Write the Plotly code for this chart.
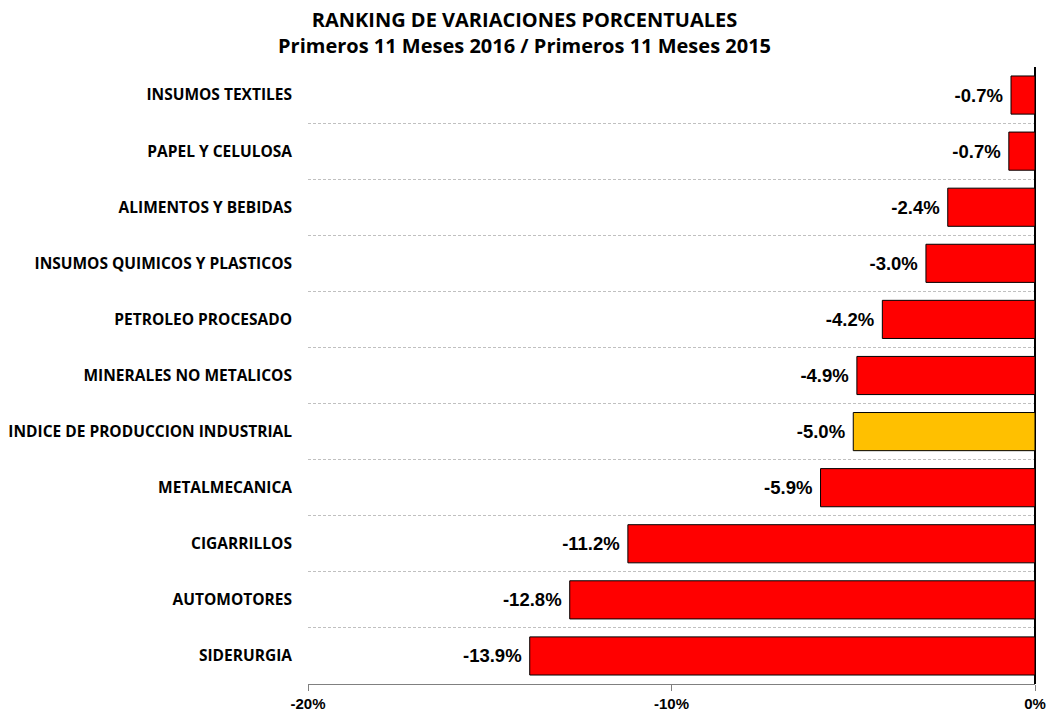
import plotly.graph_objects as go

categories = ["SIDERURGIA", "AUTOMOTORES", "CIGARRILLOS", "METALMECANICA",
              "INDICE DE PRODUCCION INDUSTRIAL", "MINERALES NO METALICOS",
              "PETROLEO PROCESADO", "INSUMOS QUIMICOS Y PLASTICOS",
              "ALIMENTOS Y BEBIDAS", "PAPEL Y CELULOSA", "INSUMOS TEXTILES"]
values = [-13.9, -12.8, -11.2, -5.9, -5.0, -4.9, -4.2, -3.0, -2.4, -0.72, -0.66]
highlight = "INDICE DE PRODUCCION INDUSTRIAL"
x_ticks = [-20, -10, 0]
x_tick_labels = ["-20%", "-10%", "0%"]

positions = list(range(len(categories)))
colors = ["#FFC000" if c == highlight else "#FF0000" for c in categories]
texts = [f"{v:.1f}% " for v in values]

fig = go.Figure(go.Bar(
    x=values, y=positions, orientation="h",
    marker=dict(color=colors, line=dict(color="black", width=1)),
    width=0.68,
    text=texts, textposition="outside", cliponaxis=False,
    textfont=dict(family="Liberation Sans, Arial", size=18.5, color="black", weight="bold"),
    hoverinfo="skip",
))

fig.add_annotation(
    text="<b>RANKING DE VARIACIONES PORCENTUALES<br>Primeros 11 Meses 2016 / Primeros 11 Meses 2015</b>",
    xref="paper", yref="paper", x=0.298, xanchor="center",
    y=1.0567, yanchor="middle", showarrow=False,
    font=dict(family="Open Sans, Lato, sans-serif", size=20, color="black"),
)

fig.update_layout(
    width=1049, height=717,
    margin=dict(l=308, r=14, t=67, b=33, autoexpand=False),
    paper_bgcolor="white", plot_bgcolor="white",
    showlegend=False,
    xaxis=dict(
        range=[-20, 0], tickvals=x_ticks, ticktext=x_tick_labels,
        automargin=False,
        showgrid=False, zeroline=True, zerolinecolor="black", zerolinewidth=2,
        showline=True, linecolor="#808080", linewidth=1,
        ticks="outside", ticklen=6, tickcolor="#808080",
        tickfont=dict(family="Liberation Sans Narrow, Arial Narrow, Liberation Sans", size=15,
                      color="black", weight="bold"),
    ),
    yaxis=dict(
        range=[-0.5, 10.5], tickvals=positions, ticktext=categories,
        automargin=False,
        showgrid=False, zeroline=False, showline=False, ticks="",
        ticklabelstandoff=15,
        tickfont=dict(family="Open Sans, Lato, sans-serif", size=15.5, color="black", weight="bold"),
        minor=dict(tickvals=[p + 0.5 for p in positions], showgrid=True,
                   gridcolor="#C0C0C0", griddash="3px,2px", gridwidth=1, ticks=""),
    ),
)

fig.write_html("out.html", config={"displayModeBar": False},
               post_script="document.body.style.margin='0';")
